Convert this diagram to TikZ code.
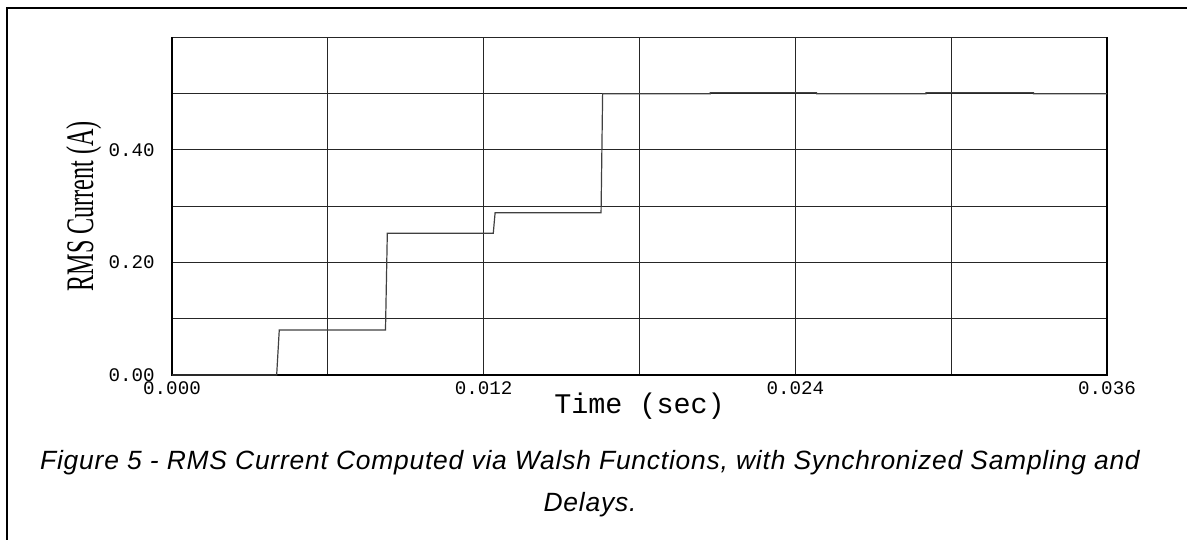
\documentclass[tikz,border=0pt]{standalone}
\usepackage{fontspec}
\setmainfont{Liberation Sans}
\newfontfamily\capfont[LetterSpace=3]{Liberation Sans}
\newfontfamily\plotfont{Liberation Mono}
\newfontfamily\labelfont{Liberation Serif}
\usetikzlibrary{positioning}
\tikzset{
    every picture/.style={line join=miter},
    gridline/.style={draw=black!85,line width=0.5pt},
    axisline/.style={draw=black,line width=1.1pt},
    trace/.style={draw=black!75,line width=0.6pt},
    ticklabel/.style={font=\plotfont\fontsize{9.6}{10}\selectfont,inner sep=0pt},
    axistitle/.style={font=\plotfont\fontsize{14.2}{15}\selectfont,inner sep=0pt},
    captiontext/.style={font=\capfont\itshape\fontsize{13.2}{21}\selectfont,
      align=center,inner sep=0pt}
}

\begin{document}
\begin{tikzpicture}[x=0.5pt,y=0.5pt]
  \useasboundingbox (0,0) rectangle (1187,540);
  % outer frame: only its left and top sides are on the page
  \draw[line width=1.2pt] (7,0) -- (7,532) -- (1187,532);

  % plot in data units: x in ms, y in A
  \begin{scope}[shift={(172,165)},x=12.986pt,y=281.25pt]
    \foreach \t in {6,12,...,30} \draw[gridline] (\t,0) -- (\t,0.6);
    \foreach \v in {0.1,0.2,0.3,0.4,0.5,0.6} \draw[gridline] (0,\v) -- (36,\v);
    \draw[axisline] (36,0.6) -- (36,0) -- (0,0) -- (0,0.6);

    \foreach \v/\txt [count=\i] in {0/0.00,0.2/0.20,0.4/0.40}
      \node[ticklabel,anchor=east] (ytick\i) at (-0.65,\v) {\txt};
    \foreach \t/\txt [count=\i] in {0/0.000,12/0.012,24/0.024,36/0.036}
      \node[ticklabel,anchor=north] (xtick\i) at (\t,-0.011) {\txt};

    \node[axistitle] (xtitle) at (18,-0.056) {Time (sec)};
    \node[rotate=90,inner sep=0pt] (ytitle) at (-3.4,0.3)
      {\scalebox{0.62}[1]{\labelfont\fontsize{19.5}{20}\selectfont RMS Current (A)}};

    % rms current, one step per half cycle
    \draw[trace] (0,0) -- (4.03,0) -- (4.13,0.08) -- (8.22,0.08) -- (8.29,0.252)
      -- (12.37,0.252) -- (12.44,0.2885) -- (16.52,0.2885) -- (16.58,0.5)
      -- (20.72,0.5) -- (20.72,0.502) -- (24.82,0.502) -- (24.82,0.5)
      -- (29.03,0.5) -- (29.03,0.502) -- (33.17,0.502) -- (33.17,0.5) -- (36,0.5);
  \end{scope}

  \node[captiontext] (caption) at (590,56)
    {Figure 5 - RMS Current Computed via Walsh Functions, with Synchronized Sampling and\\Delays.};
\end{tikzpicture}
\end{document}
